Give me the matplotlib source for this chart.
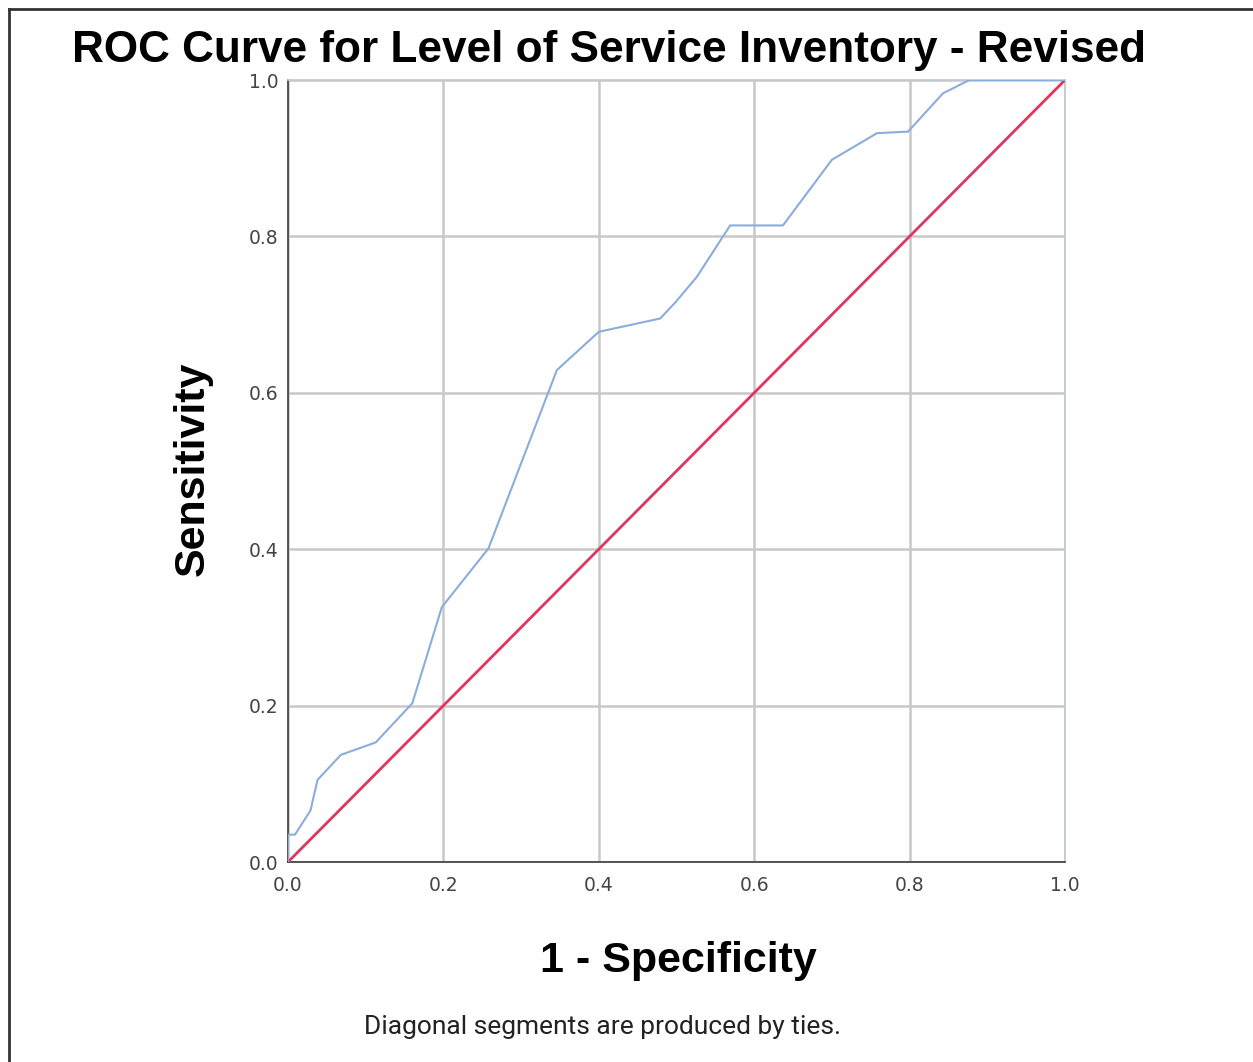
import matplotlib
matplotlib.use('Agg')
import matplotlib.pyplot as plt
from matplotlib.lines import Line2D

# ROC points
fpr = [0.0, 0.0, 0.009, 0.029, 0.038, 0.068, 0.113, 0.160, 0.198, 0.258,
       0.346, 0.400, 0.479, 0.498, 0.526, 0.569, 0.637, 0.700, 0.758, 0.798,
       0.843, 0.877, 1.0]
tpr = [0.0, 0.035, 0.035, 0.066, 0.105, 0.137, 0.153, 0.203, 0.326, 0.401,
       0.629, 0.678, 0.695, 0.715, 0.748, 0.814, 0.814, 0.898, 0.932, 0.934,
       0.983, 1.0, 1.0]
ref_line = [0.0, 1.0]
ticks = [0.0, 0.2, 0.4, 0.6, 0.8, 1.0]
tick_labels = ['0.0', '0.2', '0.4', '0.6', '0.8', '1.0']

plt.rcParams['font.family'] = ['Liberation Sans', 'DejaVu Sans']

W, H = 1253, 1062
fig = plt.figure(figsize=(W / 100, H / 100), dpi=100)
fig.patch.set_facecolor('white')

# axes placed in pixel terms
left, right, bottom, top = 288, 1065, 862, 80
ax = fig.add_axes([left / W, 1 - bottom / H, (right - left) / W, (bottom - top) / H])

ax.plot(ref_line, ref_line, color='#e0355f', lw=2.0, zorder=3)
ax.plot(fpr, tpr, color='#8aaddb', lw=1.5, zorder=4)

ax.set_xlim(0, 1)
ax.set_ylim(0, 1)
ax.set_xticks(ticks)
ax.set_yticks(ticks)
ax.set_xticklabels(tick_labels)
ax.set_yticklabels(tick_labels)
for lab in ax.get_xticklabels() + ax.get_yticklabels():
    lab.set_family('DejaVu Sans')
ax.tick_params(length=0, labelsize=13.5, labelcolor='#444444', pad=7)
ax.tick_params(axis='x', pad=10)
ax.grid(True, color='#c8c8c8', lw=1.8)
ax.set_axisbelow(True)

for s in ['left', 'bottom']:
    ax.spines[s].set_color('#3a3a3a')
    ax.spines[s].set_linewidth(1.2)
for s in ['top', 'right']:
    ax.spines[s].set_color('#c0c8d4')
    ax.spines[s].set_linewidth(1.2)

fig.text(609 / W, 1 - 51 / H, 'ROC Curve for Level of Service Inventory - Revised',
         ha='center', va='center', fontsize=31.8, fontweight='bold')
fig.text(193 / W, 1 - 469 / H, 'Sensitivity', rotation=90, ha='center', va='center',
         fontsize=31, fontweight='bold')
fig.text(678 / W, 1 - 961 / H, '1 - Specificity', ha='center', va='center',
         fontsize=31, fontweight='bold')
fig.text(602 / W, 1 - 1027 / H, 'Diagonal segments are produced by ties.',
         ha='center', va='center', fontsize=19, color='#222222',
         family=['Roboto', 'DejaVu Sans'])

# frame lines on the left and top edge
fig.add_artist(Line2D([8.5 / W, 8.5 / W], [0, 1 - 8.5 / H], color='#333333', lw=2))
fig.add_artist(Line2D([8.5 / W, 1], [1 - 8.5 / H, 1 - 8.5 / H], color='#333333', lw=2))

fig.savefig('out.png', dpi=100)
